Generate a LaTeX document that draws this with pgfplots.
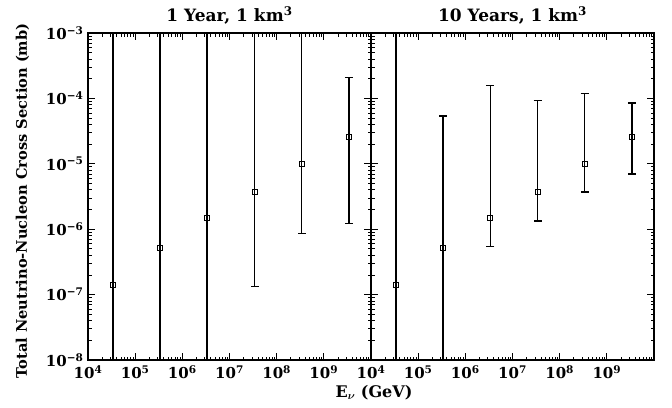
\documentclass[border=0pt]{standalone}
\usepackage{fontspec}
\setmainfont{DejaVu Serif}
\usepackage{pgfplots}
\pgfplotsset{compat=1.18}
\begin{document}
\begin{tikzpicture}
\path[use as bounding box] (-88pt,-47pt) rectangle (584pt,360pt);

\begin{axis}[xmode=log, ymode=log, scale only axis,
    width=283pt, height=327pt, at={(0pt,0pt)}, anchor=south west,
    xmin=1e4, xmax=1e10, ymin=1e-8, ymax=1e-3,
    xtick={1e4,1e5,1e6,1e7,1e8,1e9,1e10},
    xticklabels={10\textsuperscript{4},10\textsuperscript{5},10\textsuperscript{6},10\textsuperscript{7},10\textsuperscript{8},10\textsuperscript{9},{}},
    ytick={1e-8,1e-7,1e-6,1e-5,1e-4,1e-3},
    yticklabels={10\textsuperscript{−8},10\textsuperscript{−7},10\textsuperscript{−6},10\textsuperscript{−5},10\textsuperscript{−4},10\textsuperscript{−3}},
    tick align=inside, major tick length=7pt, minor tick length=3.5pt,
    tick style={black, line width=0.8pt},
    axis line style={line width=1.2pt},
    tick label style={font=\fontsize{15}{17}\selectfont\bfseries},
    xticklabel style={yshift=-2pt},
    yticklabel style={xshift=-1pt},
    title style={font=\fontsize{17}{19}\selectfont\bfseries, yshift=-1pt},
    title={1 Year, 1 km\textsuperscript{3}}]
\addplot[only marks, black, mark=square, mark size=2.5pt, mark options={line width=1pt},
  error bars/.cd, y dir=both, y explicit,
  error mark options={rotate=90, mark size=4pt, line width=2pt},
  error bar style={line width=2pt}] coordinates {
  (3.4e4,1.4e-7)  += (0,1e-2) -= (0,1.35e-7)
  (3.4e5,5.2e-7)  += (0,1e-2) -= (0,5.15e-7)
  (3.4e6,1.47e-6) += (0,1e-2) -= (0,1.465e-6)
};
\addplot[only marks, black, mark=square, mark size=2.5pt, mark options={line width=1pt},
  error bars/.cd, y dir=both, y explicit,
  error mark options={rotate=90, mark size=4pt, line width=1.3pt},
  error bar style={line width=1.3pt}] coordinates {
  (3.4e7,3.7e-6)  += (0,1e-2)    -= (0,3.566e-6)
  (3.4e8,1.0e-5)  += (0,1e-2)    -= (0,9.13e-6)
  (3.4e9,2.6e-5)  += (0,1.84e-4) -= (0,2.477e-5)
};
\end{axis}

\begin{axis}[xmode=log, ymode=log, scale only axis,
    width=283pt, height=327pt, at={(283pt,0pt)}, anchor=south west,
    xmin=1e4, xmax=1e10, ymin=1e-8, ymax=1e-3,
    xtick={1e4,1e5,1e6,1e7,1e8,1e9,1e10},
    xticklabels={10\textsuperscript{4},10\textsuperscript{5},10\textsuperscript{6},10\textsuperscript{7},10\textsuperscript{8},10\textsuperscript{9},{}},
    ytick={1e-8,1e-7,1e-6,1e-5,1e-4,1e-3},
    yticklabels={},
    tick align=inside, major tick length=7pt, minor tick length=3.5pt,
    tick style={black, line width=0.8pt},
    axis line style={line width=1.2pt},
    tick label style={font=\fontsize{15}{17}\selectfont\bfseries},
    xticklabel style={yshift=-2pt},
    title style={font=\fontsize{17}{19}\selectfont\bfseries, yshift=-1pt},
    title={10 Years, 1 km\textsuperscript{3}}]
\addplot[only marks, black, mark=square, mark size=2.5pt, mark options={line width=1pt},
  error bars/.cd, y dir=both, y explicit,
  error mark options={rotate=90, mark size=4pt, line width=1.5pt},
  error bar style={line width=1.5pt}] coordinates {
  (3.4e4,1.4e-7)  += (0,1e-2)      -= (0,1.35e-7)
  (3.4e6,1.47e-6) += (0,1.5653e-4) -= (0,9.3e-7)
  (3.4e8,1.0e-5)  += (0,1.08e-4)   -= (0,6.3e-6)
};
\addplot[only marks, black, mark=square, mark size=2.5pt, mark options={line width=1pt},
  error bars/.cd, y dir=both, y explicit,
  error mark options={rotate=90, mark size=4pt, line width=1.8pt},
  error bar style={line width=1.8pt}] coordinates {
  (3.4e5,5.2e-7)  += (0,5.348e-5) -= (0,5.15e-7)
  (3.4e7,3.7e-6)  += (0,8.93e-5)  -= (0,2.37e-6)
  (3.4e9,2.6e-5)  += (0,6.0e-5)   -= (0,1.91e-5)
};
\end{axis}

\node[font=\fontsize{16}{18}\selectfont\bfseries, anchor=base] at (286pt,-37pt) {E\textsubscript{\boldmath$\nu$} (GeV)};
\node[font=\fontsize{14.6}{17}\selectfont\bfseries, rotate=90, anchor=base] at (-61pt,159pt) {Total Neutrino-Nucleon Cross Section (mb)};
\end{tikzpicture}
\end{document}
